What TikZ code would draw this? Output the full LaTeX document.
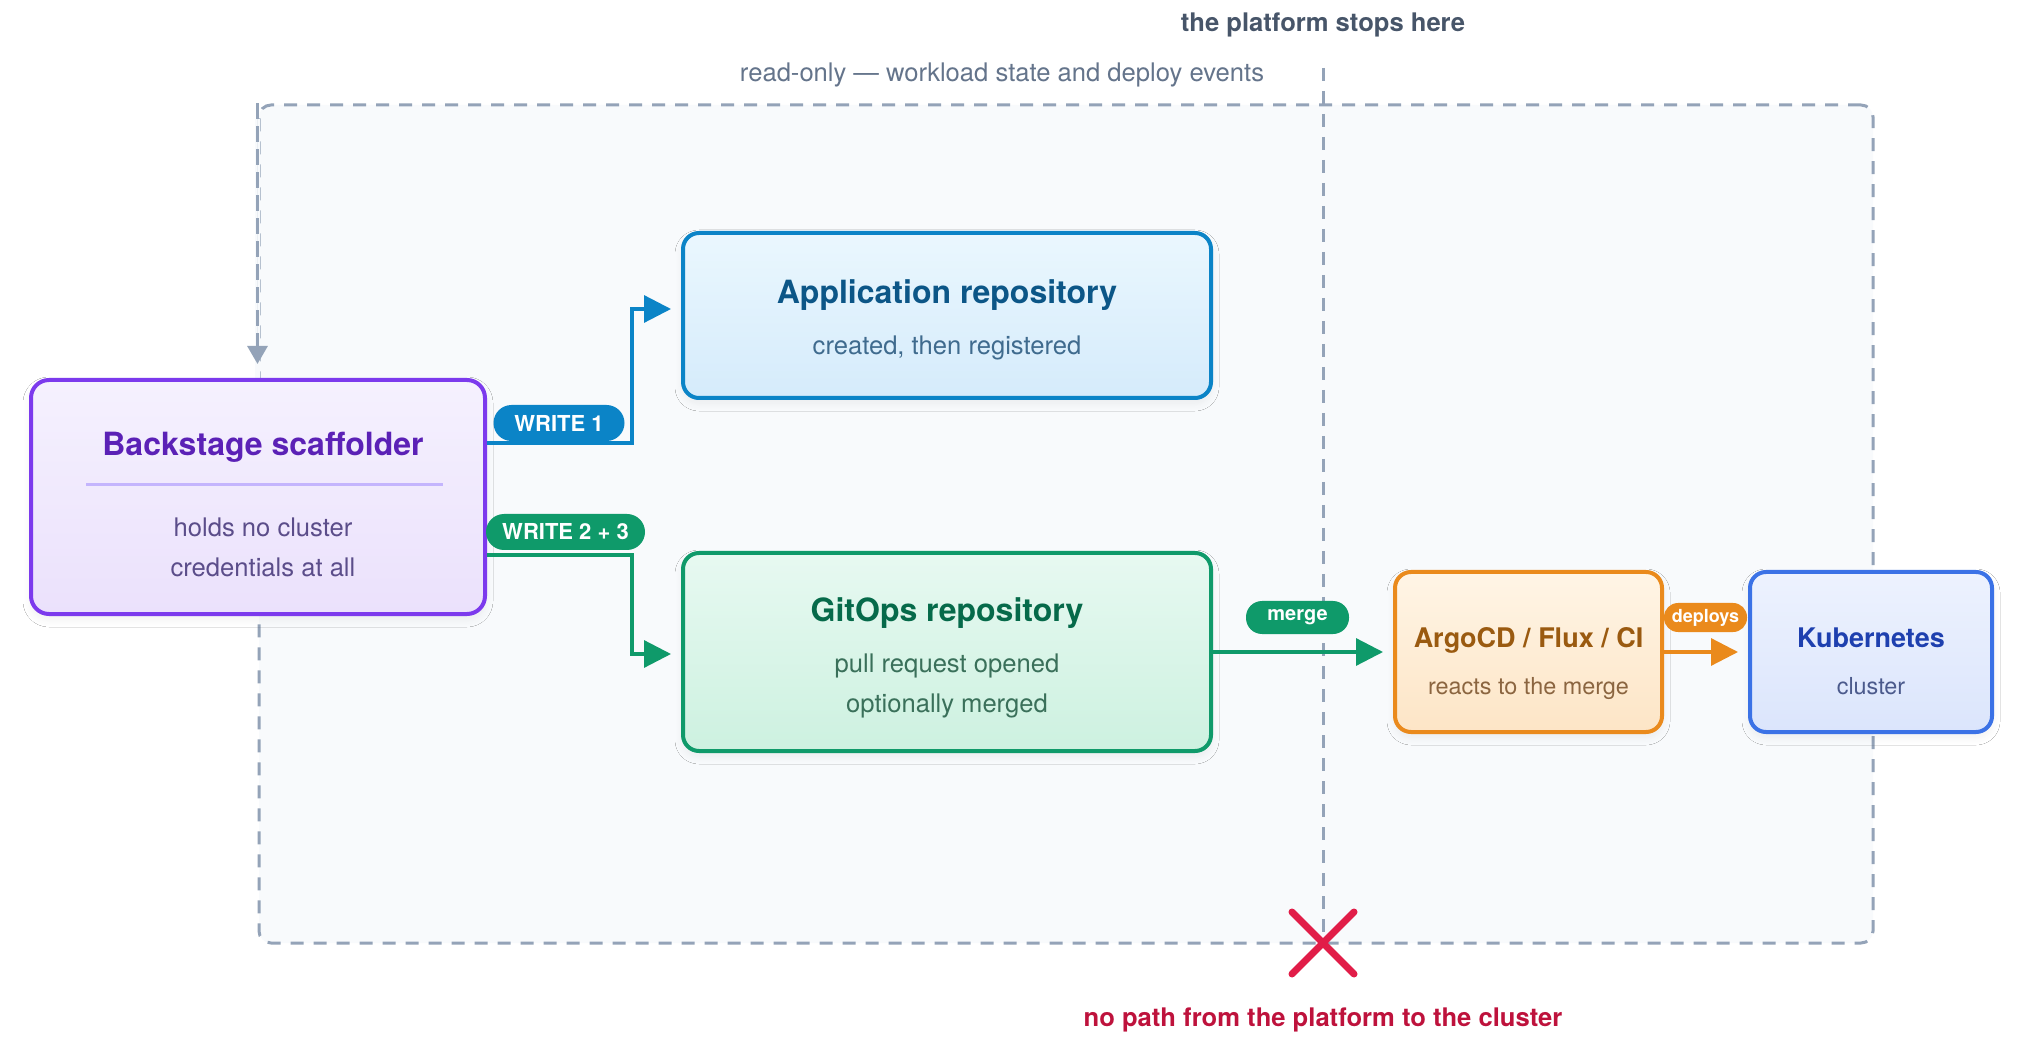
\documentclass[tikz,border=0pt]{standalone}
\usepackage{fontspec}
\setmainfont{TeX Gyre Heros}
\usetikzlibrary{arrows.meta,shadows.blur}
\definecolor{zonefill}{HTML}{F8FAFC}
\definecolor{zoneline}{HTML}{94A3B8}
\definecolor{slatedark}{HTML}{475569}
\definecolor{slatemid}{HTML}{64748B}
\definecolor{rosex}{HTML}{E11D48}
\definecolor{rosetext}{HTML}{BE123C}
\definecolor{vioB}{HTML}{7C3AED}\definecolor{vioT}{HTML}{5B21B6}\definecolor{vioS}{HTML}{5B4D8A}
\definecolor{vioTop}{HTML}{F5F1FE}\definecolor{vioBot}{HTML}{EBE1FC}\definecolor{vioDiv}{HTML}{C4B5FD}
\definecolor{skyB}{HTML}{0B84C7}\definecolor{skyT}{HTML}{0C5687}\definecolor{skyS}{HTML}{3F6B8E}
\definecolor{skyTop}{HTML}{EAF7FE}\definecolor{skyBot}{HTML}{D5EBFB}
\definecolor{emB}{HTML}{0F9A6A}\definecolor{emT}{HTML}{066A4A}\definecolor{emS}{HTML}{3A705A}
\definecolor{emTop}{HTML}{E7F9F1}\definecolor{emBot}{HTML}{CDF1E0}
\definecolor{orB}{HTML}{EA8A1C}\definecolor{orT}{HTML}{9A5A10}\definecolor{orS}{HTML}{8B6540}
\definecolor{orTop}{HTML}{FFF5E6}\definecolor{orBot}{HTML}{FDE5C6}
\definecolor{blB}{HTML}{3B72E6}\definecolor{blT}{HTML}{1E40AF}\definecolor{blS}{HTML}{4B5A8C}
\definecolor{blTop}{HTML}{EDF2FE}\definecolor{blBot}{HTML}{DBE5FC}
\begin{document}
\begin{tikzpicture}[x=0.5pt,y=-0.5pt,
  zone/.style={draw=zoneline,fill=zonefill,line width=1.5pt,dash pattern=on 6.5pt off 5pt,rounded corners=6pt,minimum width=807pt,minimum height=419pt,inner sep=0pt},
  card/.style={line width=2pt,rounded corners=8pt,inner sep=0pt,
     blur shadow={shadow xshift=0pt,shadow yshift=-2.5pt,shadow blur radius=4pt,shadow blur steps=10,shadow opacity=6}},
  ttl/.style={anchor=base,font=\fontsize{16}{19}\selectfont\bfseries},
  ttls/.style={anchor=base,font=\fontsize{13.5}{16}\selectfont\bfseries},
  sub/.style={anchor=base,font=\fontsize{12.8}{15}\selectfont},
  subs/.style={anchor=base,font=\fontsize{11.7}{14}\selectfont},
  pill/.style={rounded corners=8pt,inner sep=0pt,text=white,font=\fontsize{11}{13}\selectfont\bfseries},
  conn/.style={line width=1.6pt,-{Triangle[length=13.5pt,width=13.5pt]},shorten >=5pt},
  divline/.style={draw=zoneline,line width=1.5pt,dash pattern=on 6.5pt off 5pt}
]
\useasboundingbox[fill=white] (0,0) rectangle (2018,1042);

% zone
\node[zone] (zone) at (1066,524) {};

% top labels
\node[anchor=base,text=slatedark,font=\fontsize{12.8}{15}\selectfont\bfseries] (stoplbl) at (1323,32) {the platform stops here};
\node[anchor=base,text=slatemid,font=\fontsize{12.8}{15}\selectfont] (readlbl) at (1002,82) {read-only --- workload state and deploy events};

% platform boundary
\coordinate (stoptop) at (1323,68);
\coordinate (xmark) at (1323,943);
\draw[divline] (stoptop) -- (xmark);

% read-only arrow (masks the zone edge beneath it)
\draw[zonefill,line width=2.5pt] ([yshift=-8pt]zone.north west) -- (zone.west |- 0,380);
\draw[draw=zoneline,line width=1.5pt,dash pattern=on 8pt off 3.5pt,-{Triangle[length=9pt,width=10pt]},fill=zoneline]
  (zone.north west) -- ([yshift=8pt]zone.west |- 0,380);

% cards
\node[card,draw=vioB,top color=vioTop,bottom color=vioBot,rounded corners=9pt,minimum width=227pt,minimum height=117pt] (bs) at (258,497) {};
\node[card,draw=skyB,top color=skyTop,bottom color=skyBot,minimum width=264pt,minimum height=82.5pt] (app) at (947,315.5) {};
\node[card,draw=emB,top color=emTop,bottom color=emBot,minimum width=264pt,minimum height=99pt] (git) at (947,652) {};
\node[card,draw=orB,top color=orTop,bottom color=orBot,minimum width=133.5pt,minimum height=80pt] (argo) at (1528.5,652) {};
\node[card,draw=blB,top color=blTop,bottom color=blBot,minimum width=121pt,minimum height=80pt] (k8s) at (1871,652) {};

% card texts
\node[ttl,text=vioT] (bsT) at (263,456) {Backstage scaffolder};
\draw[vioDiv,line width=1.5pt] (86,485) -- (443,485);
\node[sub,text=vioS] (bsS1) at (263,537) {holds no cluster};
\node[sub,text=vioS] (bsS2) at (263,576) {credentials at all};

\node[ttl,text=skyT] (appT) at (947,304) {Application repository};
\node[sub,text=skyS] (appS) at (947,355) {created, then registered};

\node[ttl,text=emT] (gitT) at (947,621) {GitOps repository};
\node[sub,text=emS] (gitS1) at (947,672) {pull request opened};
\node[sub,text=emS] (gitS2) at (947,712) {optionally merged};

\node[ttls,text=orT] (argoT) at (1528.5,647) {ArgoCD / Flux / CI};
\node[subs,text=orS] (argoS) at (1528.5,694) {reacts to the merge};

\node[ttls,text=blT] (k8sT) at (1871,647) {Kubernetes};
\node[subs,text=blS] (k8sS) at (1871,694) {cluster};

% connectors
\coordinate (w1) at (632,443);
\coordinate (w2) at (632,555);
\draw[conn,skyB] (bs.east |- w1) -- (w1) |- (app.west |- 0,309);
\draw[conn,emB] (bs.east |- w2) -- (w2) |- (git.west |- 0,654);
\draw[conn,emB] (git.east) -- (argo.west);
\draw[conn,orB] (argo.east) -- (k8s.west);

% pills
\node[pill,fill=skyB,minimum width=65.5pt,minimum height=18pt,rounded corners=9pt] (p1) at (559,423) {WRITE 1};
\node[pill,fill=emB,minimum width=79.5pt,minimum height=18pt,rounded corners=9pt] (p2) at (565.5,532) {WRITE 2 + 3};
\node[pill,fill=emB,minimum width=51.5pt,minimum height=16.5pt,font=\fontsize{10}{12}\selectfont\bfseries] (p3) at (1297.5,617.5) {merge};
\node[pill,fill=orB,minimum width=41.5pt,minimum height=14.5pt,rounded corners=7pt,font=\fontsize{9}{11}\selectfont\bfseries] (p4) at (1705.5,617.5) {deploys};

% X mark
\draw[rosex,line width=3.5pt,line cap=round] ([shift={(-31,-31)}]xmark) -- ([shift={(31,31)}]xmark);
\draw[rosex,line width=3.5pt,line cap=round] ([shift={(31,-31)}]xmark) -- ([shift={(-31,31)}]xmark);
\node[anchor=base,text=rosetext,font=\fontsize{12.8}{15}\selectfont\bfseries] (nopath) at (1323,1026) {no path from the platform to the cluster};
\end{tikzpicture}
\end{document}
